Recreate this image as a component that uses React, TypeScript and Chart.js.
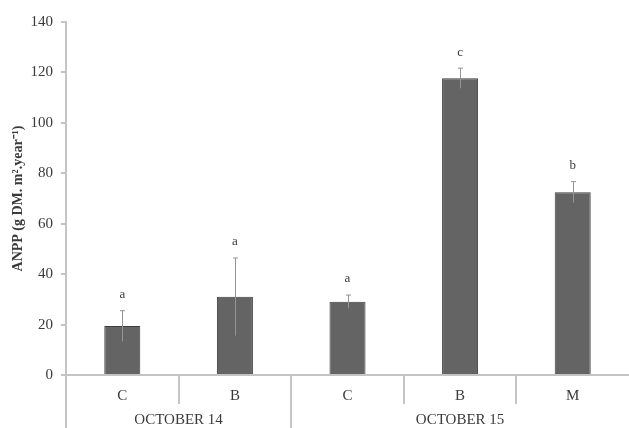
import React, { useEffect, useRef } from "react";
import { Chart, registerables } from "chart.js";

Chart.register(...registerables);

const categories = ["C", "B", "C", "B", "M"];
const groups = ["OCTOBER 14", "OCTOBER 15"];
const groupSizes = [2, 3];
const anpp = [19.4, 31.0, 29.1, 117.7, 72.5];
const errors = [6.1, 15.4, 2.6, 4.0, 4.2];
const letters = ["a", "a", "a", "c", "b"];

const AXIS = "#c4c4c4";
const TEXT = "#3a3a3a";
const SERIF = "'Liberation Serif', 'Times New Roman', serif";

const overlay = {
  id: "overlay",
  afterDatasetsDraw(chart: any) {
    const ctx = chart.ctx;
    const meta = chart.getDatasetMeta(0);
    const y = chart.scales.y;
    ctx.save();
    ctx.strokeStyle = "#949494";
    ctx.lineWidth = 1;
    meta.data.forEach((bar: any, i: number) => {
      const x = Math.round(bar.x) + 0.5;
      const top = y.getPixelForValue(anpp[i] + errors[i]);
      const bot = y.getPixelForValue(anpp[i] - errors[i]);
      ctx.beginPath();
      ctx.moveTo(x, bot);
      ctx.lineTo(x, top);
      ctx.moveTo(x - 2.5, top);
      ctx.lineTo(x + 2.5, top);
      ctx.stroke();
      ctx.fillStyle = TEXT;
      ctx.font = `13px ${SERIF}`;
      ctx.textAlign = "center";
      ctx.textBaseline = "middle";
      ctx.fillText(letters[i], bar.x, top - 16);
    });
    ctx.restore();
  },
  afterDraw(chart: any) {
    const ctx = chart.ctx;
    const area = chart.chartArea;
    const n = categories.length;
    const w = (area.right - area.left) / n;
    const bottom = chart.height;
    ctx.save();
    ctx.strokeStyle = AXIS;
    ctx.lineWidth = 2;
    let idx = 0;
    const groupEdges = [0];
    groupSizes.forEach((s) => {
      idx += s;
      groupEdges.push(idx);
    });
    for (let k = 0; k < n; k++) {
      const x = Math.round(area.left + k * w);
      const isGroup = groupEdges.includes(k);
      ctx.beginPath();
      ctx.moveTo(x, area.bottom);
      ctx.lineTo(x, isGroup ? bottom : area.bottom + 29);
      ctx.stroke();
    }
    ctx.fillStyle = TEXT;
    ctx.font = `15px ${SERIF}`;
    ctx.textAlign = "center";
    ctx.textBaseline = "middle";
    for (let g = 0; g < groups.length; g++) {
      const x0 = area.left + groupEdges[g] * w;
      const x1 = area.left + groupEdges[g + 1] * w;
      ctx.fillText(groups[g], (x0 + x1) / 2, area.bottom + 45);
    }
    ctx.restore();
  },
};

export default function App() {
  const ref = useRef<HTMLCanvasElement>(null);
  useEffect(() => {
    if (!ref.current) return;
    const chart = new Chart(ref.current, {
      type: "bar",
      data: {
        labels: categories,
        datasets: [
          {
            data: anpp,
            backgroundColor: "#646464",
            borderColor: "#3c3c3c",
            borderWidth: 1,
            barPercentage: 0.64,
            categoryPercentage: 0.5,
          },
        ],
      },
      options: {
        animation: false,
        responsive: true,
        maintainAspectRatio: false,
        layout: { padding: { top: 22, left: 0, right: 0, bottom: 0 } },
        plugins: { legend: { display: false }, tooltip: { enabled: false } },
        scales: {
          x: {
            grid: { display: false, drawTicks: false },
            border: { color: AXIS, width: 2 },
            ticks: {
              font: { family: SERIF, size: 15 },
              color: TEXT,
              padding: 12,
            },
            afterFit: (s: any) => {
              s.height = 53;
            },
          },
          y: {
            min: 0,
            max: 140,
            ticks: {
              stepSize: 20,
              font: { family: SERIF, size: 15 },
              color: TEXT,
              padding: 8,
            },
            grid: { drawOnChartArea: false, tickLength: 5, color: AXIS, lineWidth: 2 },
            border: { color: AXIS, width: 2 },
            title: {
              display: true,
              text: "ANPP (g DM. m².year⁻¹)",
              font: { family: SERIF, size: 14, weight: "bold" },
              color: TEXT,
              padding: { top: 10, bottom: 0 },
            },
            afterFit: (s: any) => {
              s.width = 66;
            },
          },
        },
      },
      plugins: [overlay],
    });
    return () => chart.destroy();
  }, []);
  return (
    <div style={{ position: "fixed", left: 0, top: 0, width: 629, height: 428 }}>
      <canvas ref={ref} />
    </div>
  );
}
